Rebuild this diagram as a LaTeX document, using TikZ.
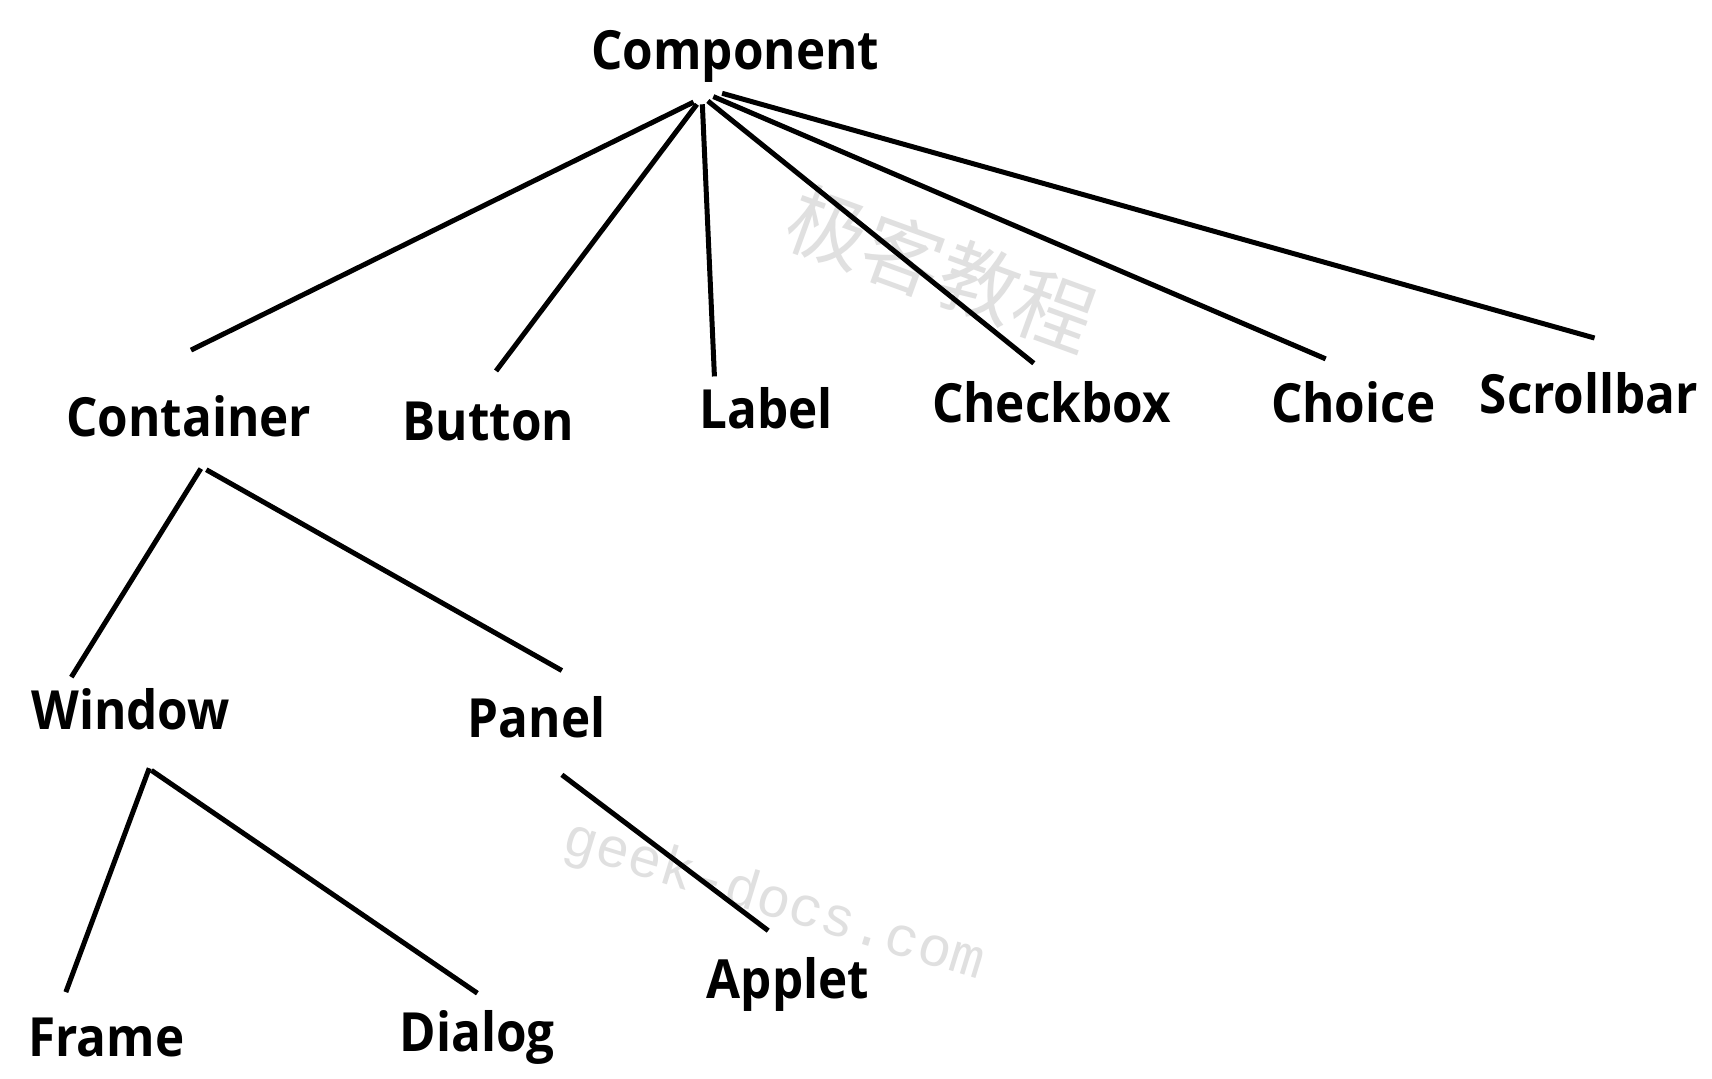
\documentclass[tikz,border=0pt]{standalone}
\usepackage{fontspec}
\setmainfont{Open Sans}[FakeStretch=0.915]
\newfontfamily\wmmono{Liberation Mono}
\newfontfamily\cjk{Noto Sans CJK SC}
\begin{document}
\begin{tikzpicture}[x=0.548718pt, y=-0.548718pt,
  lbl/.style={inner sep=0pt, anchor=base, font=\fontsize{27}{30}\selectfont\bfseries},
  edge/.style={line width=2.5pt, black},
  wm/.style={text=black!12, inner sep=0pt}]
\useasboundingbox[fill=white] (0,0) rectangle (1560,982.3);
% watermarks
\node[wm, rotate=-20, font=\cjk\fontsize{40}{40}\selectfont] (wmcn) at (858,245) {极客教程};
\node[wm, rotate=-17, font=\wmmono\fontsize{28}{28}\selectfont] (wmen) at (705,822) {geek-docs.com};
% nodes
\node[lbl] (comp) at (670,63) {Component};
\node[lbl] (cont) at (172,398) {Container};
\node[lbl] (butt) at (445,401) {Button};
\node[lbl] (lab) at (698,390) {Label};
\node[lbl] (chk) at (958,385) {Checkbox};
\node[lbl] (cho) at (1233,385) {Choice};
\node[lbl] (scr) at (1448,377) {Scrollbar};
\node[lbl] (win) at (119,665) {Window};
\node[lbl] (pan) at (489,672) {Panel};
\node[lbl] (frm) at (97,963) {Frame};
\node[lbl] (dlg) at (435,958) {Dialog};
\node[lbl] (app) at (718,910) {Applet};
% connectors
\draw[edge] ([shift={(-38,30)}]comp.base) -- ([shift={(2,-79)}]cont.base);
\draw[edge] ([shift={(-35,32)}]comp.base) -- ([shift={(7,-63)}]butt.base);
\draw[edge] ([shift={(-30,32)}]comp.base) -- ([shift={(-47,-47)}]lab.base);
\draw[edge] ([shift={(-25,29)}]comp.base) -- ([shift={(-16,-54)}]chk.base);
\draw[edge] ([shift={(-20,25)}]comp.base) -- ([shift={(-25,-58)}]cho.base);
\draw[edge] ([shift={(-12,22)}]comp.base) -- ([shift={(5,-69)}]scr.base);
\draw[edge] ([shift={(11,29)}]cont.base) -- ([shift={(-54,-48)}]win.base);
\draw[edge] ([shift={(16,30)}]cont.base) -- ([shift={(23,-61)}]pan.base);
\draw[edge] ([shift={(17,35)}]win.base) -- ([shift={(-37,-59)}]frm.base);
\draw[edge] ([shift={(19,37)}]win.base) -- ([shift={(0,-53)}]dlg.base);
\draw[edge] ([shift={(23,34)}]pan.base) -- ([shift={(-18,-62)}]app.base);
\end{tikzpicture}
\end{document}
